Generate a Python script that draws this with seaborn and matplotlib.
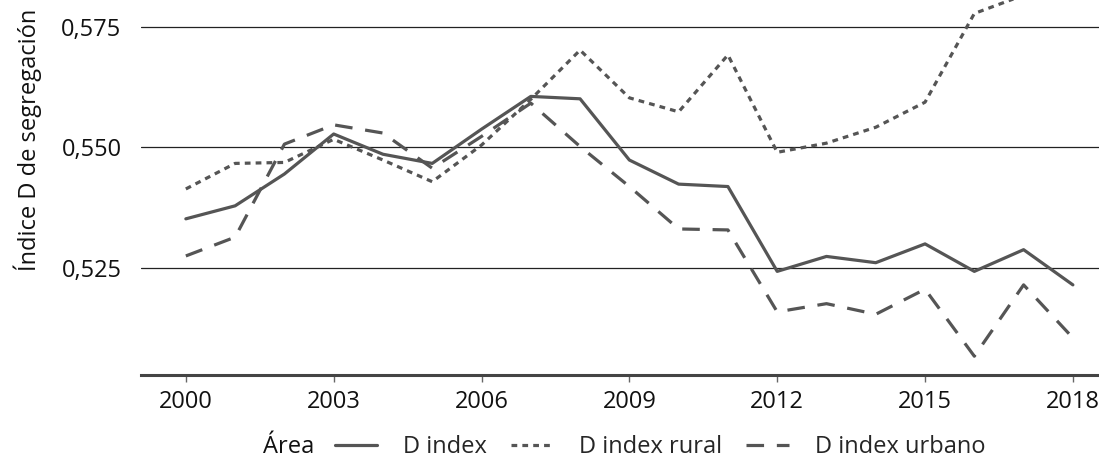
import matplotlib

matplotlib.use("Agg")

import matplotlib.pyplot as plt
import matplotlib.ticker as mticker
import pandas as pd
import seaborn as sns

# datos
anios = list(range(2000, 2019))
d_index = [0.5352, 0.5379, 0.5445, 0.5528, 0.5486, 0.5467, 0.5538, 0.5606, 0.5601, 0.5474,
           0.5424, 0.5419, 0.5243, 0.5274, 0.5261, 0.5300, 0.5243, 0.5288, 0.5215]
d_rural = [0.5414, 0.5467, 0.5469, 0.5517, 0.5474, 0.5429, 0.5505, 0.5600, 0.5702, 0.5603,
           0.5574, 0.5692, 0.5490, 0.5509, 0.5542, 0.5594, 0.5778, 0.5816, 0.5840]
d_urbano = [0.5275, 0.5314, 0.5507, 0.5547, 0.5530, 0.5457, 0.5523, 0.5592, 0.5502, 0.5419,
            0.5331, 0.5329, 0.5159, 0.5176, 0.5154, 0.5206, 0.5067, 0.5215, 0.5105]
series = ["D index", "D index rural", "D index urbano"]
y_ticks = [0.525, 0.550, 0.575]
x_ticks = [2000, 2003, 2006, 2009, 2012, 2015, 2018]

df = pd.DataFrame({
    "anio": anios * 3,
    "valor": d_index + d_rural + d_urbano,
    "serie": [s for s in series for _ in anios],
})

sns.set_theme(style="white")
plt.rcParams["font.family"] = ["Open Sans", "DejaVu Sans"]

GRIS = "#555555"
TEXTO = "#111111"
fig, ax = plt.subplots(figsize=(10.99, 4.62), dpi=100)
fig.subplots_adjust(left=0.1283, right=1.0, bottom=0.1883, top=1.0)

sns.lineplot(
    data=df, x="anio", y="valor", hue="serie", style="serie",
    palette={s: GRIS for s in series},
    dashes={"D index": "", "D index rural": (1.8, 1.6), "D index urbano": (5.5, 4.0)},
    linewidth=2.3, ax=ax,
)

ax.set_xlim(1999.09, 2018.53)
ax.set_ylim(0.5028, 0.5806)
ax.set_xticks(x_ticks)
ax.set_yticks(y_ticks)
ax.yaxis.set_major_formatter(
    mticker.FuncFormatter(lambda v, _: f"{v:.3f}".replace(".", ","))
)
ax.grid(axis="y", color="#222222", linewidth=0.9)
ax.grid(axis="x", visible=False)
for lado in ["left", "right", "top"]:
    ax.spines[lado].set_visible(False)
ax.spines["bottom"].set_color("#444444")
ax.spines["bottom"].set_linewidth(2.2)
ax.tick_params(axis="x", bottom=True, length=5, width=1, color="#666666",
               labelsize=17, labelcolor=TEXTO, pad=6)
ax.tick_params(axis="y", left=False, labelsize=17, labelcolor=TEXTO, pad=8)

ax.set_xlabel("")
ax.set_ylabel("Índice D de segregación", fontsize=17, color=TEXTO)
ax.yaxis.set_label_coords(-0.103, 0.627)

handles, labels = ax.get_legend_handles_labels()
pares = [(h, l) for h, l in zip(handles, labels) if l in series]
ax.legend(
    [h for h, _ in pares], [l for _, l in pares],
    loc="center", bbox_to_anchor=(0.6005, 0.032), bbox_transform=fig.transFigure,
    ncol=3, frameon=False, fontsize=17, handlelength=1.8, handletextpad=1.1,
    columnspacing=1.0,
)
fig.text(263 / 1099, 0.032, "Área", ha="left", va="center", fontsize=17, color=TEXTO)

fig.savefig("out.png", dpi=100)
